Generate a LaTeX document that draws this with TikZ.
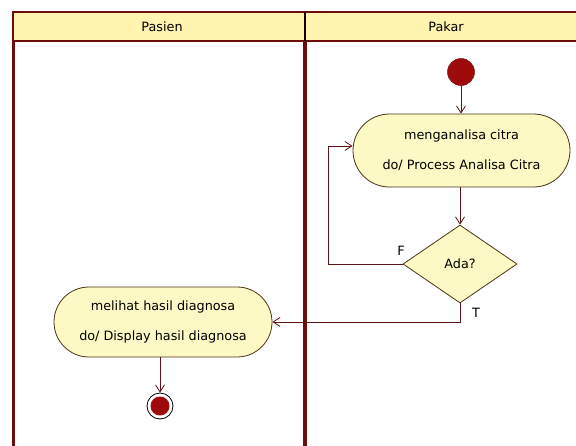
\documentclass[tikz,border=0pt]{standalone}
\usepackage{fontspec}
\setmainfont{DejaVu Sans}
\usetikzlibrary{shapes.misc,shapes.geometric,arrows.meta}
\definecolor{lane}{HTML}{6E0B0B}
\definecolor{headfill}{HTML}{FFF4B0}
\definecolor{actfill}{HTML}{FDF9C4}
\definecolor{actline}{HTML}{4A3418}
\definecolor{flow}{HTML}{5C1414}
\definecolor{dot}{HTML}{9E0A0A}
\tikzset{
  txt/.style={font=\fontsize{12.8}{14}\selectfont, text=black},
  activity/.style={rounded rectangle, draw=actline, line width=0.8pt, fill=actfill,
    align=center, inner sep=0pt, font=\fontsize{12.8}{30}\selectfont},
  decision/.style={diamond, draw=actline, line width=0.8pt, fill=actfill,
    inner sep=0pt, font=\fontsize{12.8}{14}\selectfont},
  startdot/.style={circle, fill=dot, draw=lane, line width=0.5pt,
    minimum size=27pt, inner sep=0pt},
  enddot/.style={circle, draw=black, line width=0.8pt, minimum size=26pt, inner sep=0pt},
  flowline/.style={draw=flow, line width=0.9pt,
    -{Straight Barb[length=7pt,width=9pt,line width=0.8pt]}},
  lanerule/.style={draw=lane, line width=3.5pt},
}
\begin{document}
\begin{tikzpicture}[x=1pt,y=-1pt]
\useasboundingbox (0,0) rectangle (576,445);
\fill[white] (0,0) rectangle (576,445);

% swimlane headers
\fill[headfill] (13,12) rectangle (580,41);
\draw[draw=lane, line width=2pt] (580,12) -- (13,12) -- (13,41) -- (580,41);
\draw[draw=black!80!lane, line width=1.5pt] (305,12) -- (305,41);
\node[txt] (lanea) at (162,27) {Pasien};
\node[txt] (laneb) at (446,27) {Pakar};

% swimlane rules
\draw[lanerule, line width=3pt] (13,41) -- (13,446);
\draw[lanerule] (305,41) -- (305,446);

% activity nodes
\node[startdot] (start) at (461,72) {};
\node[activity, minimum width=217pt, minimum height=73pt] (act1) at (461.5,150.5)
  {menganalisa citra\\do/ Process Analisa Citra};
\node[decision, minimum width=114pt, minimum height=78pt] (dec) at (460,264) {Ada?};
\node[activity, minimum width=218pt, minimum height=70pt] (act2) at (163,322)
  {melihat hasil diagnosa\\do/ Display hasil diagnosa};
\node[enddot] (stop) at (160,406) {};
\fill[dot] (stop.center) circle (9.5pt);

% guard labels
\node[txt] (gf) at (401,251) {F};
\node[txt] (gt) at (476,313) {T};

% control flows
\coordinate (loop) at (328,146);
\draw[flowline] (start) -- (act1.north -| start);
\draw[flowline] (act1.south -| dec) -- (dec.north);
\draw[flowline] (dec.west) -| (loop) -- (act1.west |- loop);
\draw[flowline] (dec.south) |- (act2.east);
\draw[flowline] (act2.south -| stop) -- (stop.north);
\end{tikzpicture}
\end{document}
